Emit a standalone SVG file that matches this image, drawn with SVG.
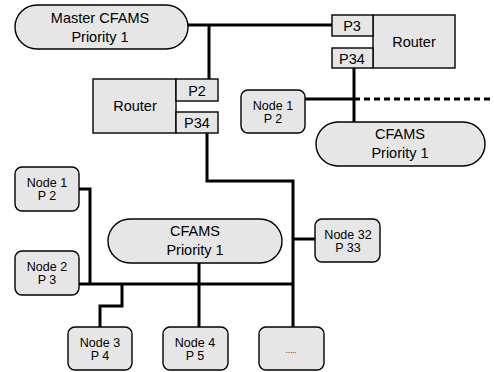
<svg xmlns="http://www.w3.org/2000/svg" width="494" height="372" viewBox="0 0 494 372">
<style>
.s{fill:#e6e6e6;stroke:#000;stroke-width:1.4}
.c{fill:none;stroke:#000;stroke-width:3}
.t{font-family:"Liberation Sans",Arial,sans-serif;font-size:14.5px;fill:#000;text-anchor:middle}
.n{font-family:"Liberation Sans",Arial,sans-serif;font-size:12.5px;fill:#000;text-anchor:middle}
</style>
<rect width="494" height="372" fill="#fff"/>
<g id="connectors">
<path class="c" d="M188 25H332M209 25V79"/>
<path class="c" d="M354 68V122M305 99H354"/>
<path d="M354 99H494" fill="none" stroke="#000" stroke-width="3" stroke-dasharray="6,4"/>
<path class="c" d="M207 133V181H293V327M293 239H315"/>
<path class="c" d="M79 189H90V284M79 284H293M122 284V306H100V327M199 263V327"/>
</g>
<g id="master"><rect class="s" x="15" y="5" width="173" height="44" rx="22"/><text class="t" x="100" y="23">Master CFAMS</text><text class="t" x="100" y="42">Priority 1</text></g>
<g id="router1"><rect class="s" x="93" y="79" width="83" height="54"/><text class="t" x="135" y="111">Router</text></g>
<g id="r1p2"><rect class="s" x="176" y="79" width="42" height="22"/><text class="t" x="197" y="96">P2</text></g>
<g id="r1p34"><rect class="s" x="176" y="112" width="42" height="21"/><text class="t" x="197" y="128">P34</text></g>
<g id="router2"><rect class="s" x="373" y="15" width="82" height="53"/><text class="t" x="414" y="47">Router</text></g>
<g id="r2p3"><rect class="s" x="332" y="15" width="41" height="21"/><text class="t" x="352" y="31">P3</text></g>
<g id="r2p34"><rect class="s" x="332" y="48" width="41" height="20"/><text class="t" x="352" y="64">P34</text></g>
<g id="nodeR1"><rect class="s" x="241" y="90" width="64" height="43" rx="7"/><text class="n" x="273" y="110">Node 1</text><text class="n" x="273" y="123">P 2</text></g>
<g id="cfamsR"><rect class="s" x="316" y="122" width="169" height="44" rx="22"/><text class="t" x="400" y="139">CFAMS</text><text class="t" x="400" y="158">Priority 1</text></g>
<g id="node1"><rect class="s" x="15" y="167" width="64" height="44" rx="7"/><text class="n" x="47" y="187">Node 1</text><text class="n" x="47" y="200">P 2</text></g>
<g id="node2"><rect class="s" x="15" y="251" width="64" height="44" rx="7"/><text class="n" x="47" y="271">Node 2</text><text class="n" x="47" y="284">P 3</text></g>
<g id="cfams"><rect class="s" x="108" y="219" width="174" height="44" rx="22"/><text class="t" x="195" y="236">CFAMS</text><text class="t" x="195" y="255">Priority 1</text></g>
<g id="node32"><rect class="s" x="315" y="219" width="65" height="43" rx="7"/><text class="n" x="348" y="239">Node 32</text><text class="n" x="348" y="252">P 33</text></g>
<g id="node3"><rect class="s" x="68" y="327" width="64" height="43" rx="7"/><text class="n" x="100" y="347">Node 3</text><text class="n" x="100" y="360">P 4</text></g>
<g id="node4"><rect class="s" x="163" y="327" width="65" height="43" rx="7"/><text class="n" x="195" y="347">Node 4</text><text class="n" x="195" y="360">P 5</text></g>
<g id="more"><rect class="s" x="259" y="327" width="65" height="43" rx="7"/><text class="n" x="291" y="353" style="font-size:8px">.....</text></g>
</svg>
